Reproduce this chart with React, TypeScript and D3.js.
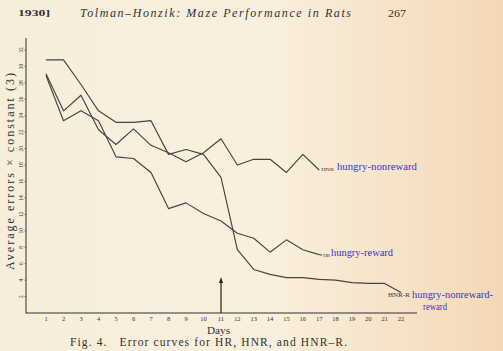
import React, { useEffect, useRef } from "react";
import * as d3 from "d3";

// days on the x axis
const days = [1, 2, 3, 4, 5, 6, 7, 8, 9, 10, 11, 12, 13, 14, 15, 16, 17, 18, 19, 20, 21, 22];
const yTicks = [2, 4, 6, 8, 10, 12, 14, 16, 18, 20, 22, 24, 26, 28, 30, 32];

// average errors x constant
const hnr = [29.1, 24.6, 26.5, 22.3, 20.5, 22.4, 20.4, 19.5, 18.4, 19.5, 21.2, 18.0, 18.7, 18.7, 17.1, 19.3, 17.4];
const hr = [28.9, 23.4, 24.6, 23.4, 19.0, 18.8, 17.1, 12.7, 13.4, 12.1, 11.2, 9.7, 9.1, 7.4, 8.9, 7.7, 7.1];
const hnrr = [30.8, 30.8, 27.8, 24.6, 23.2, 23.2, 23.4, 19.3, 19.9, 19.3, 16.5, 7.7, 5.3, 4.7, 4.3, 4.3, 4.1, 4.0, 3.7, 3.6, 3.6, 2.5];

const seriesNames = ["HNR", "HR", "HNR-R"];
const seriesLabels = ["hungry-nonreward", "hungry-reward", "hungry-nonreward-reward"];

const W = 503;
const H = 351;
const serif = "'Liberation Serif', 'DejaVu Serif', serif";
const ink = "#33312f";
const blue = "#3636c2";

const App = () => {
  const ref = useRef<SVGSVGElement | null>(null);

  useEffect(() => {
    const svg = d3.select(ref.current);
    svg.selectAll("*").remove();

    // paper background
    const defs = svg.append("defs");
    const grad = defs.append("linearGradient").attr("id", "paper");
    grad.append("stop").attr("offset", "0%").attr("stop-color", "#f6eedb");
    grad.append("stop").attr("offset", "55%").attr("stop-color", "#f9efdc");
    grad.append("stop").attr("offset", "100%").attr("stop-color", "#f4d8b6");
    svg.append("rect").attr("width", W).attr("height", H).attr("fill", "url(#paper)");

    // the scan is slightly stretched, so day 11 is pinned too
    const x = d3.scaleLinear().domain([1, 11, 22]).range([46, 221, 401]);
    const y = d3.scaleLinear().domain([0, 32]).range([313, 50]);

    // header
    svg.append("text").attr("x", 18).attr("y", 16).attr("font-size", 8.5).attr("font-weight", "bold")
      .attr("textLength", 32).attr("lengthAdjust", "spacingAndGlyphs")
      .attr("font-family", serif).attr("fill", ink).text("1930]");
    svg.append("text").attr("x", 80).attr("y", 17).attr("font-size", 12).attr("font-style", "italic")
      .attr("textLength", 271).attr("lengthAdjust", "spacing")
      .attr("font-family", serif).attr("fill", ink).text("Tolman–Honzik: Maze Performance in Rats");
    svg.append("text").attr("x", 388).attr("y", 17).attr("font-size", 10.5)
      .attr("textLength", 18).attr("lengthAdjust", "spacingAndGlyphs")
      .attr("font-family", serif).attr("fill", ink).text("267");

    // axes lines
    svg.append("line").attr("x1", 26).attr("x2", 26).attr("y1", 38).attr("y2", 313.5)
      .attr("stroke", ink).attr("stroke-width", 1);
    svg.append("line").attr("x1", 26).attr("x2", 417).attr("y1", 313).attr("y2", 313)
      .attr("stroke", ink).attr("stroke-width", 1.1);

    // x tick labels
    svg.append("g")
      .selectAll("text")
      .data(days)
      .join("text")
      .attr("x", (d) => x(d))
      .attr("y", 320.5)
      .attr("text-anchor", "middle")
      .attr("font-size", 6.5)
      .attr("font-family", serif)
      .attr("fill", ink)
      .text((d) => d);

    // y tick labels, rotated
    svg.append("g")
      .selectAll("text")
      .data(yTicks)
      .join("text")
      .attr("transform", (d) => `translate(22.5,${y(d)}) rotate(-90)`)
      .attr("text-anchor", "middle")
      .attr("font-size", 5.5)
      .attr("font-family", serif)
      .attr("fill", ink)
      .text((d) => d);
    svg.append("g")
      .selectAll("line")
      .data(yTicks)
      .join("line")
      .attr("x1", 24.5)
      .attr("x2", 26)
      .attr("y1", (d) => y(d))
      .attr("y2", (d) => y(d))
      .attr("stroke", ink)
      .attr("stroke-width", 0.6);

    // axis titles
    svg.append("text")
      .attr("transform", `translate(14,${171.5}) rotate(-90)`)
      .attr("text-anchor", "middle")
      .attr("font-size", 12)
      .attr("textLength", 197).attr("lengthAdjust", "spacing")
      .attr("font-family", serif).attr("fill", ink)
      .text("Average errors × constant (3)");
    svg.append("text").attr("x", 207).attr("y", 333.5).attr("font-size", 11)
      .attr("textLength", 23).attr("lengthAdjust", "spacingAndGlyphs")
      .attr("font-family", serif).attr("fill", ink).text("Days");
    svg.append("text").attr("x", 70).attr("y", 345.5).attr("font-size", 11.5)
      .attr("textLength", 277).attr("lengthAdjust", "spacing")
      .attr("font-family", serif).attr("fill", ink)
      .attr("xml:space", "preserve")
      .text("Fig. 4.   Error curves for HR, HNR, and HNR–R.");

    // curves
    const line = d3
      .line<number>()
      .x((d, i) => x(days[i]))
      .y((d) => y(d));

    const all = [hnr, hr, hnrr];
    all.forEach((s) => {
      svg.append("path")
        .datum(s)
        .attr("d", line)
        .attr("fill", "none")
        .attr("stroke", "#464442")
        .attr("stroke-width", 1.15)
        .attr("stroke-linejoin", "round");
    });

    // end labels
    const ends = all.map((s) => ({ x: x(days[s.length - 1]), y: y(s[s.length - 1]) }));
    // HNR
    svg.append("text").attr("x", ends[0].x + 2).attr("y", ends[0].y + 1.5).attr("font-size", 5)
      .attr("textLength", 13).attr("lengthAdjust", "spacingAndGlyphs")
      .attr("font-family", serif).attr("fill", ink).text(seriesNames[0]);
    svg.append("text").attr("x", 337).attr("y", ends[0].y + 0.5).attr("font-size", 10.5)
      .attr("textLength", 80).attr("lengthAdjust", "spacingAndGlyphs")
      .attr("font-family", serif).attr("fill", blue).text(seriesLabels[0]);
    // HR
    svg.append("line").attr("x1", ends[1].x).attr("x2", ends[1].x + 3).attr("y1", ends[1].y)
      .attr("y2", ends[1].y + 0.5).attr("stroke", ink).attr("stroke-width", 1);
    svg.append("text").attr("x", ends[1].x + 4).attr("y", ends[1].y + 2).attr("font-size", 5)
      .attr("textLength", 7).attr("lengthAdjust", "spacingAndGlyphs")
      .attr("font-family", serif).attr("fill", ink).text(seriesNames[1]);
    svg.append("text").attr("x", 331).attr("y", ends[1].y + 1).attr("font-size", 10.5)
      .attr("textLength", 62).attr("lengthAdjust", "spacingAndGlyphs")
      .attr("font-family", serif).attr("fill", blue).text(seriesLabels[1]);
    // HNR-R, two lines
    svg.append("text").attr("x", 388).attr("y", 297).attr("font-size", 5.5)
      .attr("textLength", 22).attr("lengthAdjust", "spacingAndGlyphs")
      .attr("font-family", serif).attr("fill", ink).text(seriesNames[2]);
    svg.append("text").attr("x", 412).attr("y", 298).attr("font-size", 10.5)
      .attr("textLength", 81).attr("lengthAdjust", "spacingAndGlyphs")
      .attr("font-family", serif).attr("fill", blue).text("hungry-nonreward-");
    svg.append("text").attr("x", 423).attr("y", 309.5).attr("font-size", 10.5)
      .attr("textLength", 24).attr("lengthAdjust", "spacingAndGlyphs")
      .attr("font-family", serif).attr("fill", blue).text("reward");

    // arrow at day 11 (reward introduced)
    const ax = x(11);
    svg.append("line").attr("x1", ax).attr("x2", ax).attr("y1", 313).attr("y2", 281)
      .attr("stroke", "#222").attr("stroke-width", 1.2);
    svg.append("path")
      .attr("d", `M${ax},277 L${ax - 2},283 L${ax + 2},283 Z`)
      .attr("fill", "#222");

    return () => {
      svg.selectAll("*").remove();
    };
  }, []);

  return (
    <svg
      ref={ref}
      width={W}
      height={H}
      style={{ position: "absolute", left: 0, top: 0, display: "block" }}
    />
  );
};

export default App;
